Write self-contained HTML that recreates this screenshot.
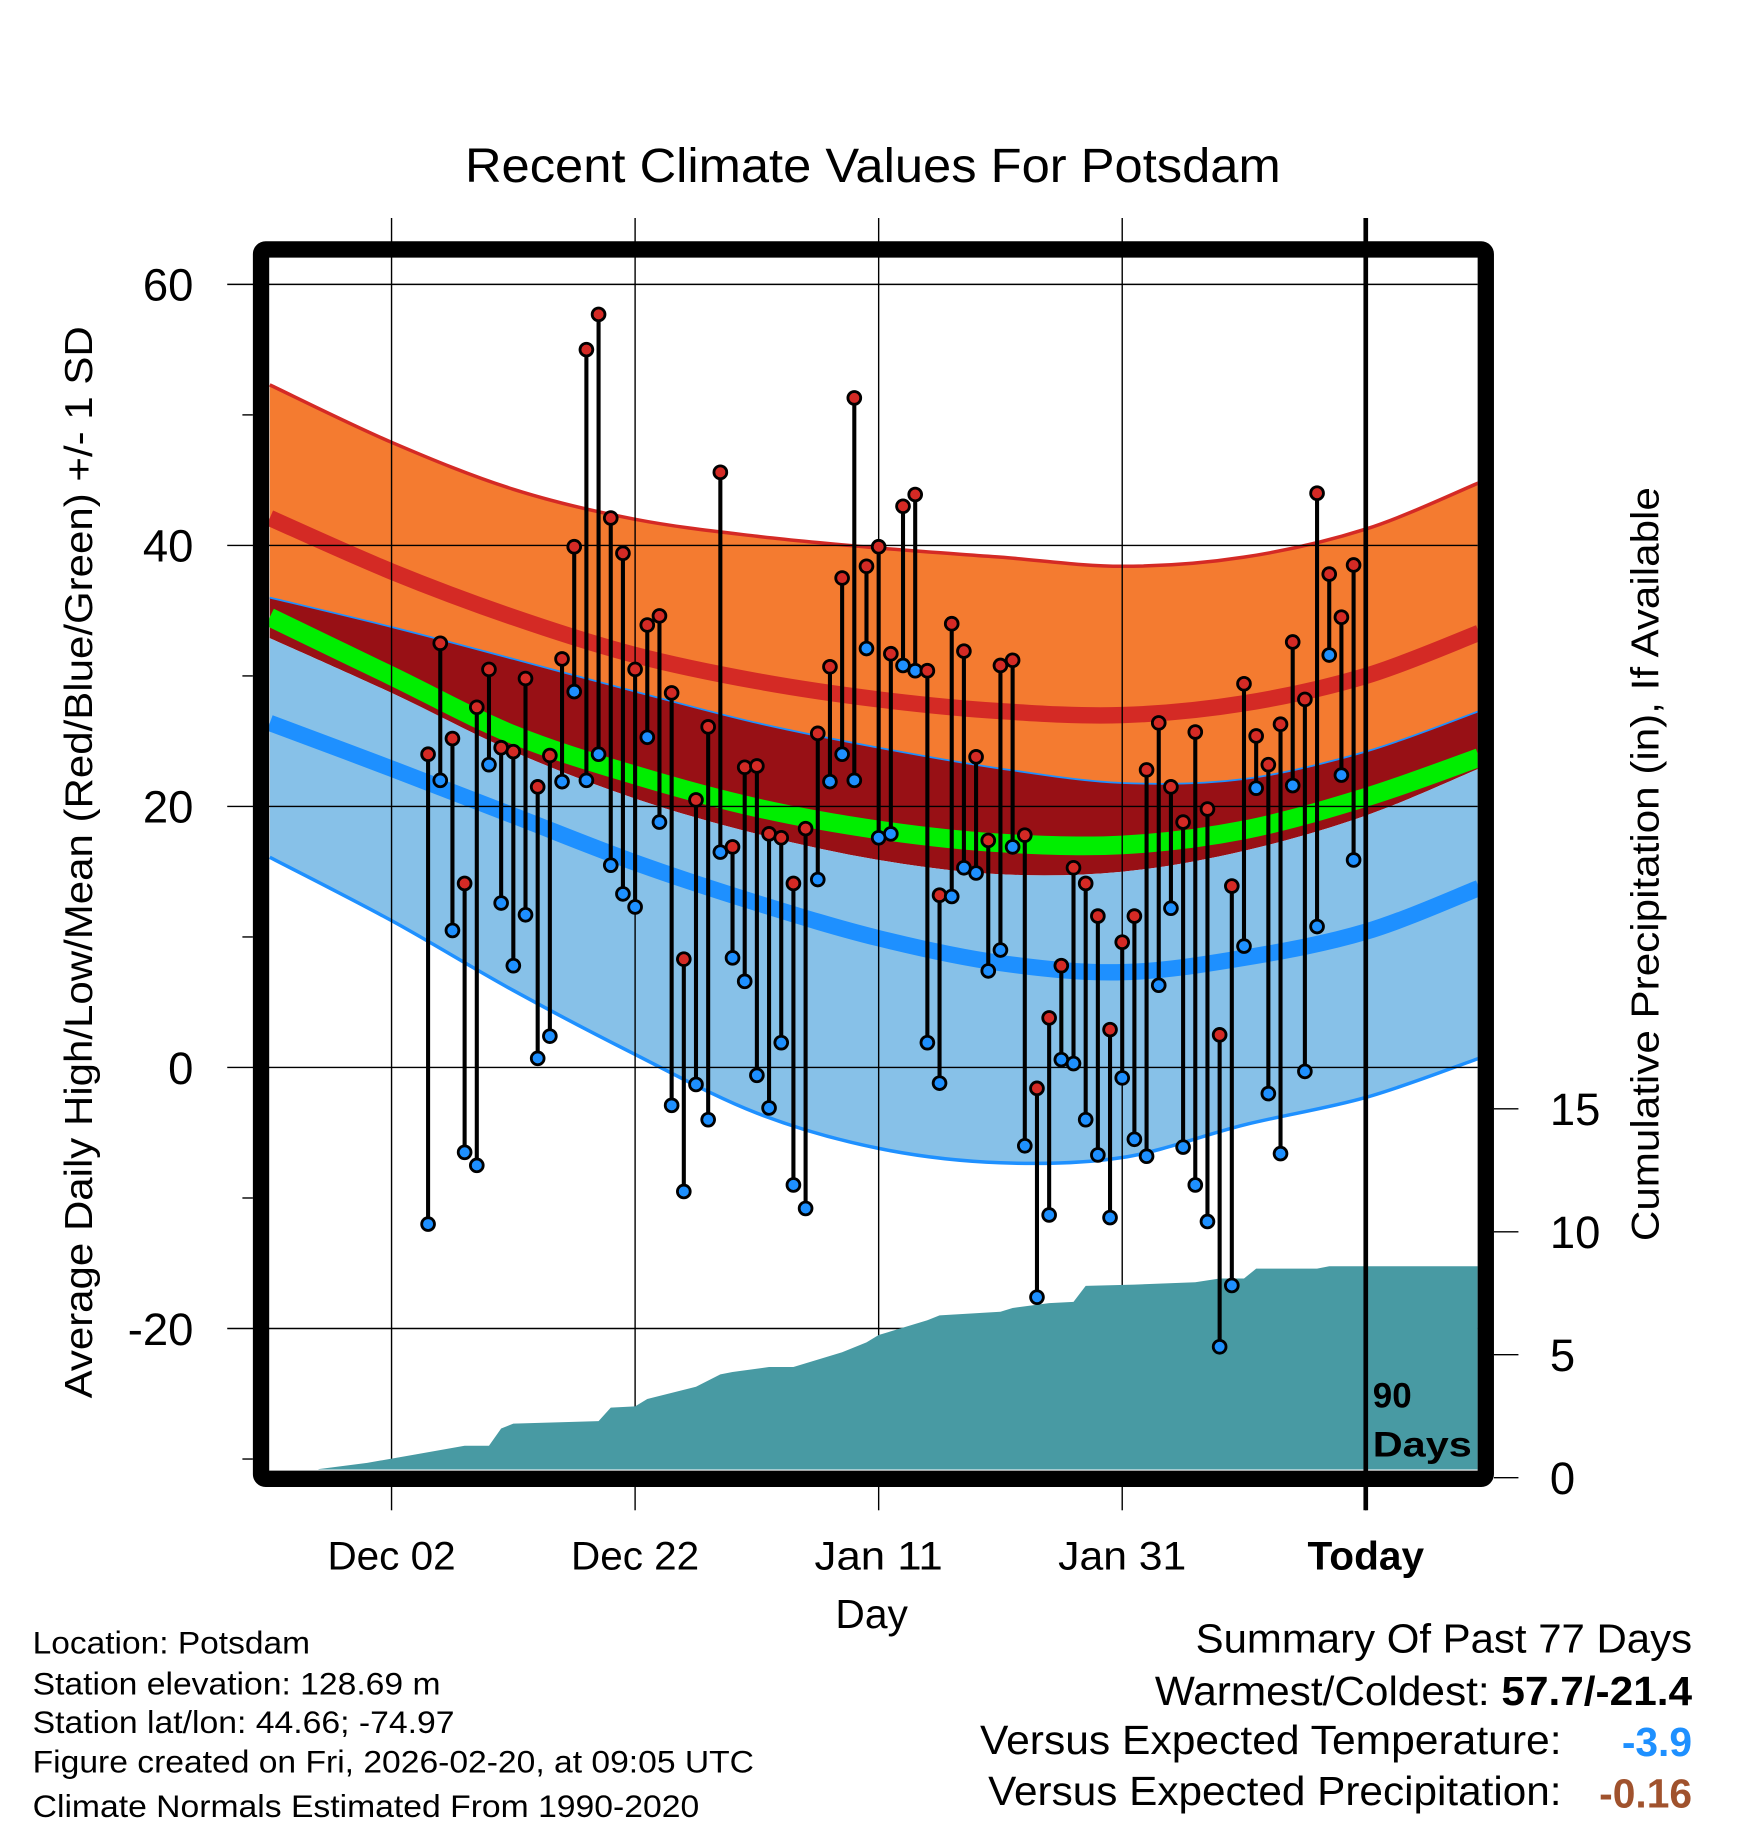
<!DOCTYPE html>
<html><head><meta charset="utf-8"><style>
html,body{margin:0;padding:0;background:#fff}
svg{display:block;font-family:"Liberation Sans",Arial,sans-serif}
</style></head><body>
<svg id="chart" width="1748" height="1828" viewBox="0 0 1500 1568.6" xmlns="http://www.w3.org/2000/svg">
<defs><clipPath id="plotclip"><rect x="231" y="221" width="1037" height="1040"/></clipPath></defs>
<text x="399" y="156" font-size="41" textLength="700" lengthAdjust="spacingAndGlyphs">Recent Climate Values For Potsdam</text>
<g id="bands" clip-path="url(#plotclip)"></g>
<g id="grid"></g>
<g id="precip" clip-path="url(#plotclip)"></g>
<g id="obs"></g>
<text x="1178" y="1208" font-size="30" font-weight="bold">90</text>
<text x="1178" y="1250" font-size="30" font-weight="bold" textLength="85" lengthAdjust="spacingAndGlyphs">Days</text>
<rect x="224" y="214" width="1051" height="1055" fill="none" stroke="#000" stroke-width="14" rx="4"/>
<g id="axes"></g>
<text transform="translate(79,1200) rotate(-90)" font-size="33" textLength="920" lengthAdjust="spacingAndGlyphs">Average Daily High/Low/Mean (Red/Blue/Green) +/- 1 SD</text>
<text transform="translate(1423,1065) rotate(-90)" font-size="33" textLength="647" lengthAdjust="spacingAndGlyphs">Cumulative Precipitation (in), If Available</text>
<text x="748" y="1397" font-size="35" text-anchor="middle">Day</text>
<g font-size="27">
<text x="28" y="1419" textLength="238" lengthAdjust="spacingAndGlyphs">Location: Potsdam</text>
<text x="28" y="1454" textLength="350" lengthAdjust="spacingAndGlyphs">Station elevation: 128.69 m</text>
<text x="28" y="1487" textLength="362" lengthAdjust="spacingAndGlyphs">Station lat/lon: 44.66; -74.97</text>
<text x="28" y="1521" textLength="619" lengthAdjust="spacingAndGlyphs">Figure created on Fri, 2026-02-20, at 09:05 UTC</text>
<text x="28" y="1559" textLength="572" lengthAdjust="spacingAndGlyphs">Climate Normals Estimated From 1990-2020</text>
</g>
<g font-size="35">
<text x="1026" y="1418" textLength="426" lengthAdjust="spacingAndGlyphs">Summary Of Past 77 Days</text>
<text x="991" y="1463" textLength="461" lengthAdjust="spacingAndGlyphs">Warmest/Coldest: <tspan font-weight="bold">57.7/-21.4</tspan></text>
<text x="841" y="1505" textLength="499" lengthAdjust="spacingAndGlyphs">Versus Expected Temperature:</text>
<text x="1452" y="1507" text-anchor="end" font-weight="bold" fill="#1e90ff">-3.9</text>
<text x="848" y="1549" textLength="492" lengthAdjust="spacingAndGlyphs">Versus Expected Precipitation:</text>
<text x="1452" y="1551" text-anchor="end" font-weight="bold" fill="#a0522d">-0.16</text>
</g>
</svg>
<script>
const normDays=[-90,-80,-70,-60,-50,-40,-30,-20,-10,0,9.3];
const highPlusSD=[52.3,47.9,44.3,42.0,40.7,39.8,39.1,38.4,39.1,41.25,44.8];
const highMean=[42.1,38.0,34.5,31.6,29.6,28.2,27.3,27.0,27.9,30.0,33.3];
const highMinusSD=[36.0,33.75,31.3,28.8,26.4,24.5,22.9,21.8,22.1,24.2,27.3];
const meanTemp=[34.5,30.0,25.5,22.4,19.9,18.2,17.2,17.05,18.2,20.7,23.75];
const lowPlusSD=[32.9,28.7,24.2,20.6,17.9,15.9,14.8,15.0,16.6,19.3,22.9];
const lowMean=[26.4,22.9,19.3,15.7,12.6,9.9,8.0,7.3,8.4,10.4,13.75];
const lowMinusSD=[16.1,11.25,5.9,1.0,-3.5,-6.2,-7.3,-6.9,-4.4,-2.3,0.7];
const highs=[24,32.5,25.2,14.1,27.6,30.5,24.5,24.2,29.8,21.5,23.9,31.3,39.9,55,57.7,42.1,39.4,30.5,33.9,34.6,28.7,8.3,20.5,26.1,45.6,16.9,23.0,23.1,17.9,17.6,14.1,18.3,25.6,30.7,37.5,51.3,38.4,39.9,31.7,43.0,43.9,30.4,13.2,34.0,31.9,23.8,17.4,30.8,31.2,17.8,-1.6,3.8,7.8,15.3,14.1,11.6,2.9,9.6,11.6,22.8,26.4,21.5,18.8,25.7,19.8,2.5,13.9,29.4,25.4,23.2,26.3,32.6,28.2,44.0,37.8,34.5,38.5];
const lows=[-12,22,10.5,-6.5,-7.5,23.2,12.6,7.8,11.7,0.7,2.4,21.9,28.8,22.0,24.0,15.5,13.3,12.3,25.3,18.8,-2.9,-9.5,-1.3,-4.0,16.5,8.4,6.6,-0.6,-3.1,1.9,-9.0,-10.8,14.4,21.9,24.0,22.0,32.1,17.6,17.9,30.8,30.4,1.9,-1.2,13.1,15.3,14.9,7.4,9.0,16.9,-6.0,-17.6,-11.3,0.6,0.3,-4.0,-6.7,-11.5,-0.8,-5.5,-6.8,6.3,12.2,-6.1,-9.0,-11.8,-21.4,-16.7,9.3,21.4,-2.0,-6.6,21.6,-0.3,10.8,31.6,22.4,15.9];
const precipDays=[-86,-82,-78,-74,-72,-71,-70,-63,-62,-60,-59,-57,-55,-53,-52,-49,-47,-45,-43,-41,-40,-38,-36,-35,-30,-29,-26,-24,-23,-19,-14,-12,-10,-9,-4,-3,9.3];
const precipCum=[0.35,0.6,0.95,1.3,1.3,2.0,2.2,2.3,2.85,2.9,3.2,3.45,3.7,4.2,4.3,4.5,4.5,4.8,5.1,5.5,5.8,6.1,6.4,6.6,6.75,6.9,7.1,7.15,7.8,7.85,7.95,8.1,8.1,8.5,8.5,8.6,8.6];
const xTicks=[-80,-60,-40,-20,0];
const xTickLabels=["Dec 02","Dec 22","Jan 11","Jan 31","Today"];
const yTicks=[60,40,20,0,-20];
const yMinor=[50,30,10,-10,-30];
const pTicks=[0,5,10,15];

const NS="http://www.w3.org/2000/svg";
function X(d){return 1172+d*10.45;}
function Y(t){return 916-t*11.2;}
function P(p){return 1268-p*21.1;}
function mk(tag,attrs,parent){const e=document.createElementNS(NS,tag);for(const k in attrs)e.setAttribute(k,attrs[k]);parent.appendChild(e);return e;}
function pts(vals){return normDays.map((d,i)=>[X(d),Y(vals[i])]);}
function smooth(p,start){let s=start?"M"+p[0][0]+","+p[0][1]:"L"+p[0][0]+","+p[0][1];
 for(let i=0;i<p.length-1;i++){const p0=p[i-1]||p[i],p1=p[i],p2=p[i+1],p3=p[i+2]||p[i+1];
 const c1=[p1[0]+(p2[0]-p0[0])/6,p1[1]+(p2[1]-p0[1])/6],c2=[p2[0]-(p3[0]-p1[0])/6,p2[1]-(p3[1]-p1[1])/6];
 s+=" C"+c1+" "+c2+" "+p2;}return s;}
function band(top,bot){const a=pts(top),b=pts(bot).reverse();return smooth(a,true)+" "+smooth(b,false)+" Z";}
const bands=document.getElementById('bands');
let e;
e=mk('path',{d:band(highPlusSD,highMinusSD),fill:'#f47b30'},bands);

e=mk('path',{d:band(highMinusSD,lowPlusSD),fill:'#981015'},bands);

e=mk('path',{d:band(lowPlusSD,lowMinusSD),fill:'#87c1e8'},bands);

e=mk('path',{d:smooth(pts(meanTemp),true),fill:'none',stroke:'#00ee00','stroke-width':16},bands);

e=mk('path',{d:smooth(pts(highMean),true),fill:'none',stroke:'#d42a25','stroke-width':14},bands);

e=mk('path',{d:smooth(pts(lowMean),true),fill:'none',stroke:'#1e90ff','stroke-width':14},bands);

e=mk('path',{d:smooth(pts(highPlusSD),true),fill:'none',stroke:'#d42a25','stroke-width':3},bands);

e=mk('path',{d:smooth(pts(highMinusSD),true),fill:'none',stroke:'#1e90ff','stroke-width':1.5},bands);

e=mk('path',{d:smooth(pts(lowMinusSD),true),fill:'none',stroke:'#1e90ff','stroke-width':3},bands);


const grid=document.getElementById('grid');
yTicks.forEach(t=>{e=mk('line',{x1:195,x2:1268,y1:Y(t),y2:Y(t),stroke:'#000','stroke-width':1.2},grid);
});
xTicks.forEach(d=>{e=mk('line',{x1:X(d),x2:X(d),y1:187,y2:1261,stroke:'#000','stroke-width':1.2},grid);
});

const pr=document.getElementById('precip');
let pd="M"+X(-90)+","+P(0)+" L"+X(precipDays[0])+","+P(0);
precipDays.forEach((d,i)=>{pd+=" L"+X(d)+","+P(precipCum[i]);});
pd+=" L"+X(9.3)+","+P(0)+" Z";
e=mk('path',{d:pd,fill:'#489aa3'},pr);


e=mk('line',{x1:X(0),x2:X(0),y1:187,y2:1296,stroke:'#000','stroke-width':4},grid.parentNode);


const obs=document.getElementById('obs');
highs.forEach((h,i)=>{const d=-77+i;
 e=mk('line',{x1:X(d),x2:X(d),y1:Y(h),y2:Y(lows[i]),stroke:'#000','stroke-width':3.5},obs);
 });
highs.forEach((h,i)=>{const d=-77+i;
 e=mk('circle',{cx:X(d),cy:Y(h),r:5.5,fill:'#d42a25',stroke:'#000','stroke-width':2.4},obs);
 
 e=mk('circle',{cx:X(d),cy:Y(lows[i]),r:5.5,fill:'#1e90ff',stroke:'#000','stroke-width':2.4},obs);
 });

const ax=document.getElementById('axes');
yTicks.forEach(t=>{e=mk('text',{x:166,y:Y(t)+14,'font-size':39,'text-anchor':'end'},ax);e.textContent=t;
});
yMinor.forEach(t=>{e=mk('line',{x1:208,x2:217,y1:Y(t),y2:Y(t),stroke:'#000','stroke-width':1.2},ax);
});
pTicks.forEach(p=>{e=mk('line',{x1:1282,x2:1303,y1:P(p),y2:P(p),stroke:'#000','stroke-width':1.2},ax);

e=mk('text',{x:1330,y:P(p)+14,'font-size':39},ax);e.textContent=p;
});
xTicks.forEach((d,i)=>{e=mk('line',{x1:X(d),x2:X(d),y1:1276,y2:1296,stroke:'#000','stroke-width':1.2},ax);

e=mk('text',{x:X(d),y:1347,'font-size':34,'text-anchor':'middle',textLength:(xTickLabels[i]==='Today'?100:110),lengthAdjust:'spacingAndGlyphs'},ax);e.textContent=xTickLabels[i];
if(xTickLabels[i]==='Today')e.setAttribute('font-weight','bold');
});
</script>
</body></html>
